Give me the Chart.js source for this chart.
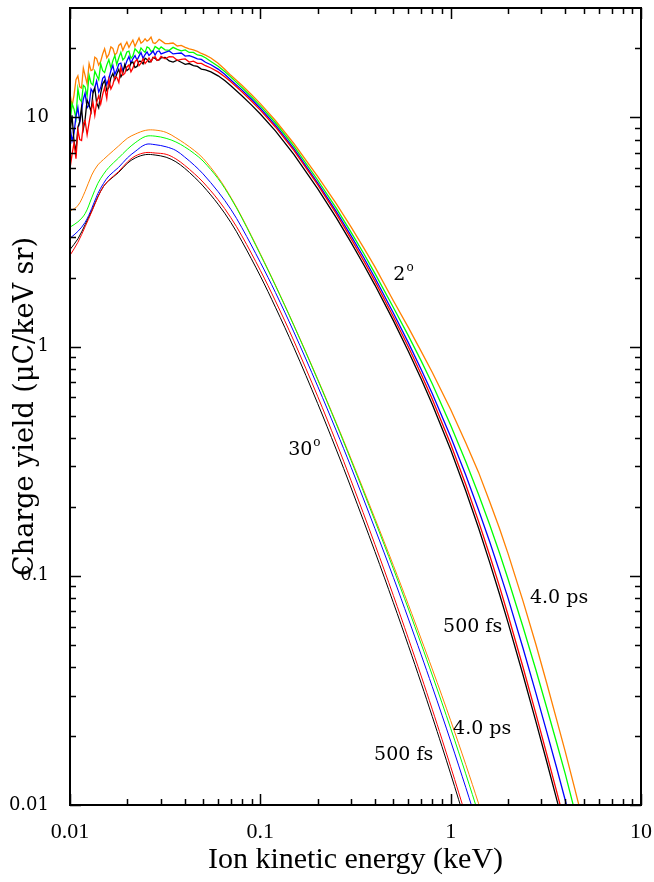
<!DOCTYPE html>
<html>
<head>
<meta charset="utf-8">
<script src="https://cdn.jsdelivr.net/npm/chart.js@4.4.1/dist/chart.umd.min.js"></script>
<style>
  html, body { margin: 0; padding: 0; background: #fff; }
  canvas { display: block; }
</style>
</head>
<body>
<canvas id="myChart" width="654" height="882"></canvas>
<script>
// axis ticks
const xTicks = [0.01, 0.1, 1, 10];
const yTicks = [0.01, 0.1, 1, 10];

// 2 degree spectra (noisy at low energy)
const energy2 = [0.0100, 0.01025, 0.0105, 0.01075, 0.0110, 0.01125, 0.0115, 0.01175, 0.0120, 0.0123,
  0.0126, 0.0129, 0.0132, 0.0135, 0.0138, 0.01415, 0.0145, 0.01485, 0.0152, 0.0156,
  0.0160, 0.0164, 0.0168, 0.0172, 0.0176, 0.01805, 0.0185, 0.01895, 0.0194, 0.0199,
  0.0204, 0.0209, 0.0214, 0.02195, 0.0225, 0.02305, 0.0236, 0.0242, 0.0248, 0.0254,
  0.0260, 0.02665, 0.0273, 0.0280, 0.0287, 0.0294, 0.0301,
  0.0316, 0.0332, 0.0348, 0.0366, 0.0384, 0.0403, 0.0423, 0.0445, 0.0467, 0.0490, 0.0515,
  0.055, 0.06, 0.065, 0.07, 0.08, 0.09, 0.1, 0.12, 0.15, 0.2,
  0.25, 0.3, 0.35, 0.4, 0.5, 0.6, 0.7, 0.8, 1.0, 1.2,
  1.4, 1.6, 1.8, 2.0, 2.4, 2.8, 3.2, 3.6, 4.0, 4.5, 5.0, 5.5];
const black2 = [8.64, 10.2, 7.83, 7.1, 9.02, 9.6, 11.09, 8.9, 9.77, 11.9,
  11.32, 10.6, 12.75, 13.4, 11.56, 11.0, 12.77, 14.0, 14.45, 13.1,
  13.49, 14.9, 15.54, 14.6, 15.45, 16.2, 15.01, 15.6, 17.01, 16.0,
  16.27, 17.3, 17.41, 16.5, 16.68, 17.6, 17.57, 17.1, 18.13, 17.9,
  17.44, 17.5, 18.26, 18.1, 17.73, 17.8, 18.18,
  18.26, 17.62, 17.43, 17.76, 17.4, 17.03, 17.17, 16.82, 16.68, 16.24, 16.1,
  15.79, 15.18, 14.47, 13.74, 12.43, 11.31, 10.34, 8.73, 6.90, 4.89,
  3.66, 2.84, 2.27, 1.855, 1.298, 0.952, 0.7216, 0.560, 0.3544, 0.2351,
  0.1619, 0.1150, 0.0839, 0.0626, 0.0369, 0.02324, 0.0154, 0.01064, 0.0076, 0.00518, 0.00366, 0.00267];
const red2 = [5.98, 6.9, 7.74, 6.6, 8.8, 8.0, 7.92, 9.3, 9.68, 8.4,
  9.49, 10.6, 11.66, 10.2, 11.62, 12.4, 11.44, 12.6, 13.52, 12.1,
  14.63, 13.3, 13.92, 15.0, 14.95, 14.2, 16.49, 15.3, 15.55, 16.6,
  16.93, 15.8, 16.39, 17.5, 17.89, 16.8, 17.23, 18.0, 17.16, 17.6,
  18.16, 17.5, 18.18, 18.4, 17.74, 17.9, 18.47,
  18.02, 18.38, 18.37, 17.73, 17.9, 17.98, 17.42, 17.59, 17.21, 17.19, 16.8,
  16.42, 15.79, 15.05, 14.29, 12.93, 11.76, 10.75, 9.08, 7.18, 5.09,
  3.81, 2.95, 2.36, 1.929, 1.350, 0.995, 0.758, 0.591, 0.3757, 0.2504,
  0.1732, 0.1236, 0.0906, 0.0676, 0.0399, 0.0251, 0.01663, 0.01149, 0.00821, 0.00559, 0.00395, 0.00288];
const blue2 = [9.15, 7.9, 8.54, 10.1, 11.02, 9.5, 10.67, 12.0, 12.76, 11.0,
  11.32, 13.3, 12.87, 13.5, 14.42, 12.9, 13.49, 14.8, 15.1, 13.9,
  14.78, 16.0, 16.85, 15.4, 16.07, 17.1, 17.24, 16.0, 16.61, 17.6,
  18.41, 17.2, 18.0, 18.6, 17.75, 18.5, 19.16, 18.1, 18.8, 19.3,
  18.62, 19.0, 19.48, 18.7, 19.39, 19.5, 18.91,
  19.2, 19.49, 18.91, 19.0, 19.09, 18.51, 18.59, 18.3, 18.01, 17.9, 17.4,
  16.97, 16.24, 15.41, 14.56, 13.18, 11.99, 10.96, 9.25, 7.31, 5.18,
  3.90, 3.04, 2.44, 1.996, 1.402, 1.038, 0.794, 0.624, 0.404, 0.2751,
  0.1943, 0.1415, 0.1053, 0.0801, 0.0483, 0.0309, 0.0208, 0.01458, 0.01049, 0.00715, 0.00505, 0.00368];
const green2 = [9.36, 11.5, 10.86, 9.9, 13.33, 12.0, 11.72, 13.8, 13.57, 12.4,
  15.26, 14.1, 13.82, 15.9, 15.25, 14.6, 17.12, 16.0, 15.68, 16.9,
  17.85, 16.4, 17.68, 18.6, 17.01, 18.2, 19.22, 17.8, 18.23, 19.3,
  19.47, 18.1, 18.53, 19.9, 19.49, 19.0, 20.09, 19.6, 19.21, 20.3,
  20.09, 19.4, 19.5, 20.4, 20.1, 19.8, 20.3,
  19.7, 19.6, 20.2, 19.8, 19.5, 19.7, 19.2, 19.2, 18.71, 18.6, 18.2,
  17.53, 16.70, 15.84, 14.98, 13.51, 12.27, 11.22, 9.47, 7.49, 5.33,
  4.03, 3.15, 2.54, 2.087, 1.480, 1.114, 0.866, 0.689, 0.4536, 0.3150,
  0.2267, 0.1679, 0.1267, 0.0970, 0.0598, 0.0390, 0.0265, 0.01873, 0.01368, 0.00932, 0.00659, 0.00481];
const orange2 = [12.73, 11.2, 12.51, 14.6, 15.18, 13.6, 13.43, 16.4, 15.25, 14.0,
  17.17, 16.0, 16.15, 18.3, 18.05, 16.9, 17.57, 18.9, 19.93, 18.2,
  18.82, 20.3, 19.99, 18.7, 19.1, 20.6, 21.01, 19.6, 20.5, 21.3,
  20.18, 21.0, 21.73, 20.4, 21.3, 22.2, 21.07, 21.4, 22.03, 21.5,
  21.82, 22.4, 21.18, 21.0, 21.4, 21.9, 21.62,
  20.99, 21.0, 21.11, 20.49, 20.6, 20.2, 19.9, 19.7, 19.4, 19.0, 18.7,
  18.16, 17.23, 16.21, 15.25, 13.80, 12.55, 11.48, 9.69, 7.69, 5.53,
  4.21, 3.32, 2.69, 2.226, 1.584, 1.209, 0.9525, 0.773, 0.5316, 0.3809,
  0.2833, 0.2116, 0.1619, 0.1252, 0.0775, 0.0504, 0.0339, 0.02362, 0.0171, 0.01166, 0.00824, 0.00601];

// 30 degree spectra
const energy30 = [0.01, 0.011, 0.012, 0.013, 0.014, 0.015, 0.016, 0.018, 0.02, 0.022,
  0.025, 0.028, 0.032, 0.036, 0.04, 0.045, 0.05, 0.06, 0.07, 0.08,
  0.1, 0.12, 0.15, 0.2, 0.25, 0.3, 0.4, 0.5, 0.6, 0.7,
  0.8, 0.9, 1.0, 1.1, 1.2, 1.3, 1.4, 1.5, 1.6];
const black30 = [2.65, 2.95, 3.4, 3.9, 4.5, 5.0, 5.3, 5.75, 6.3, 6.65,
  6.88, 6.85, 6.7, 6.4, 6.0, 5.49, 5.02, 4.18, 3.48, 2.88,
  2.03, 1.485, 0.990, 0.565, 0.357, 0.2416, 0.1275, 0.0763, 0.0495, 0.0340,
  0.02435, 0.01801, 0.01367, 0.01059, 0.00835, 0.00668, 0.00542, 0.00445, 0.00369];
const red30 = [2.5, 2.85, 3.33, 3.87, 4.48, 5.0, 5.32, 5.8, 6.38, 6.78,
  7.02, 6.99, 6.9, 6.59, 6.18, 5.68, 5.22, 4.37, 3.65, 3.04,
  2.15, 1.582, 1.059, 0.607, 0.384, 0.2597, 0.1371, 0.0820, 0.0532, 0.03655,
  0.02618, 0.01936, 0.0147, 0.01138, 0.00898, 0.00718, 0.00583, 0.00478, 0.00397];
const blue30 = [2.97, 3.18, 3.48, 4.0, 4.65, 5.15, 5.55, 6.05, 6.65, 7.1,
  7.62, 7.6, 7.44, 7.17, 6.72, 6.18, 5.67, 4.74, 3.97, 3.30,
  2.33, 1.723, 1.158, 0.672, 0.432, 0.2972, 0.1607, 0.0984, 0.0648, 0.0452,
  0.03287, 0.02467, 0.019, 0.01493, 0.01194, 0.00969, 0.00791, 0.00654, 0.00546];
const green30 = [3.32, 3.5, 3.8, 4.45, 5.15, 5.65, 6.05, 6.65, 7.25, 7.75,
  8.26, 8.28, 8.1, 7.81, 7.44, 6.95, 6.45, 5.40, 4.44, 3.64,
  2.52, 1.845, 1.235, 0.717, 0.462, 0.318, 0.1738, 0.1073, 0.0716, 0.0504,
  0.0369, 0.0279, 0.0216, 0.01705, 0.01368, 0.01112, 0.00915, 0.00761, 0.00638];
const orange30 = [3.9, 4.12, 4.75, 5.6, 6.2, 6.55, 6.88, 7.5, 8.1, 8.45,
  8.78, 8.8, 8.6, 8.15, 7.7, 7.17, 6.63, 5.48, 4.48, 3.67,
  2.54, 1.856, 1.242, 0.723, 0.467, 0.323, 0.178, 0.111, 0.0747, 0.053,
  0.03924, 0.02993, 0.02336, 0.01859, 0.01502, 0.0123, 0.01018, 0.00851, 0.00717];

// text placed on the plot (data coordinates)
const notes = [
  { text: '2', sup: 'o', x: 0.5, y: 1.95 },
  { text: '30', sup: 'o', x: 0.14, y: 0.336 },
  { text: '500 fs', x: 0.912, y: 0.0568 },
  { text: '4.0 ps', x: 2.61, y: 0.076 },
  { text: '4.0 ps', x: 1.03, y: 0.0204 },
  { text: '500 fs', x: 0.396, y: 0.0157 }
];

const RED = 'rgb(255,0,0)', BLACK = 'rgb(0,0,0)', BLUE = 'rgb(0,0,255)',
      GREEN = 'rgb(0,255,0)', ORANGE = 'rgb(255,128,0)';

function pts(xs, ys) {
  return xs.map((x, i) => ({ x: x, y: ys[i] }));
}
function line(xs, ys, color, width, tension) {
  return {
    data: pts(xs, ys),
    borderColor: color,
    borderWidth: width,
    pointRadius: 0,
    tension: tension,
    fill: false
  };
}

// first dataset ends up on top
const datasets = [
  line(energy2, red2, RED, 1.3, 0),
  line(energy2, black2, BLACK, 1.3, 0),
  line(energy2, blue2, BLUE, 1.3, 0),
  line(energy2, green2, GREEN, 1.3, 0),
  line(energy2, orange2, ORANGE, 1.3, 0),
  line(energy30, red30, RED, 1, 0.35),
  line(energy30, black30, BLACK, 1, 0.35),
  line(energy30, blue30, BLUE, 1, 0.35),
  line(energy30, green30, GREEN, 1, 0.35),
  line(energy30, orange30, ORANGE, 1, 0.35)
];

// frame, inward ticks on all sides and the labels on the plot
const frameAndNotes = {
  id: 'frameAndNotes',
  afterDatasetsDraw(chart) {
    const { ctx, chartArea: a, scales } = chart;
    const xs = scales.x, ys = scales.y;
    ctx.save();
    ctx.strokeStyle = '#000';
    ctx.lineWidth = 1.5;
    ctx.beginPath();
    for (let d = -2; d <= 1; d++) {
      for (let m = 1; m <= 9; m++) {
        const v = m * Math.pow(10, d);
        const len = m === 1 ? 11 : 6;
        if (v >= 0.01 && v <= 10) {
          const px = Math.round(xs.getPixelForValue(v)) + 0.5;
          ctx.moveTo(px, a.bottom); ctx.lineTo(px, a.bottom - len);
          ctx.moveTo(px, a.top); ctx.lineTo(px, a.top + len);
        }
        if (v >= 0.01 && v < 30) {
          const py = Math.round(ys.getPixelForValue(v)) + 0.5;
          ctx.moveTo(a.left, py); ctx.lineTo(a.left + len, py);
          ctx.moveTo(a.right, py); ctx.lineTo(a.right - len, py);
        }
      }
    }
    ctx.stroke();
    ctx.lineWidth = 2;
    ctx.strokeRect(a.left, a.top, a.right - a.left, a.bottom - a.top);

    ctx.fillStyle = '#000';
    ctx.textBaseline = 'alphabetic';
    ctx.textAlign = 'left';
    notes.forEach(n => {
      const px = xs.getPixelForValue(n.x);
      const py = ys.getPixelForValue(n.y);
      ctx.font = '19px "DejaVu Serif"';
      ctx.fillText(n.text, px, py);
      if (n.sup) {
        const w = ctx.measureText(n.text).width;
        ctx.font = '12px "DejaVu Serif"';
        ctx.fillText(n.sup, px + w + 1, py - 9);
      }
    });
    ctx.restore();
  }
};

function noEdgePadding(s) {
  s.paddingTop = 0;
  s.paddingBottom = 0;
  s.paddingLeft = 0;
  s.paddingRight = 0;
}

const config = {
  type: 'line',
  data: { datasets },
  options: {
    responsive: false,
    animation: false,
    devicePixelRatio: 1,
    layout: { padding: { top: 8, right: 13, left: 0, bottom: 0 } },
    plugins: { legend: { display: false }, tooltip: { enabled: false } },
    scales: {
      x: {
        type: 'logarithmic',
        position: 'bottom',
        min: 0.01,
        max: 10,
        grid: { display: false },
        border: { display: false },
        afterBuildTicks: s => { s.ticks = xTicks.map(v => ({ value: v })); },
        afterFit: s => { s.height = 77; noEdgePadding(s); },
        ticks: {
          color: '#000',
          padding: 6,
          maxRotation: 0,
          autoSkip: false,
          font: { family: 'Liberation Serif', size: 22 },
          callback: v => String(v)
        },
        title: {
          display: true,
          text: 'Ion kinetic energy (keV)',
          color: '#000',
          font: { family: 'Liberation Serif', size: 30 },
          padding: { top: 0, bottom: 4 }
        }
      },
      y: {
        type: 'logarithmic',
        min: 0.01,
        max: 30,
        grid: { display: false },
        border: { display: false },
        afterBuildTicks: s => { s.ticks = yTicks.map(v => ({ value: v })); },
        afterFit: s => { s.width = 70; noEdgePadding(s); },
        ticks: {
          color: '#000',
          padding: 13,
          autoSkip: false,
          font: { family: 'DejaVu Serif', size: 18 },
          callback: v => String(v)
        },
        title: {
          display: true,
          text: 'Charge yield (\u03bcC/keV sr)',
          color: '#000',
          font: { family: 'DejaVu Serif', size: 27 },
          padding: { top: 10, bottom: 0 }
        }
      }
    }
  },
  plugins: [frameAndNotes]
};

const myChart = new Chart(document.getElementById('myChart'), config);
</script>
</body>
</html>
